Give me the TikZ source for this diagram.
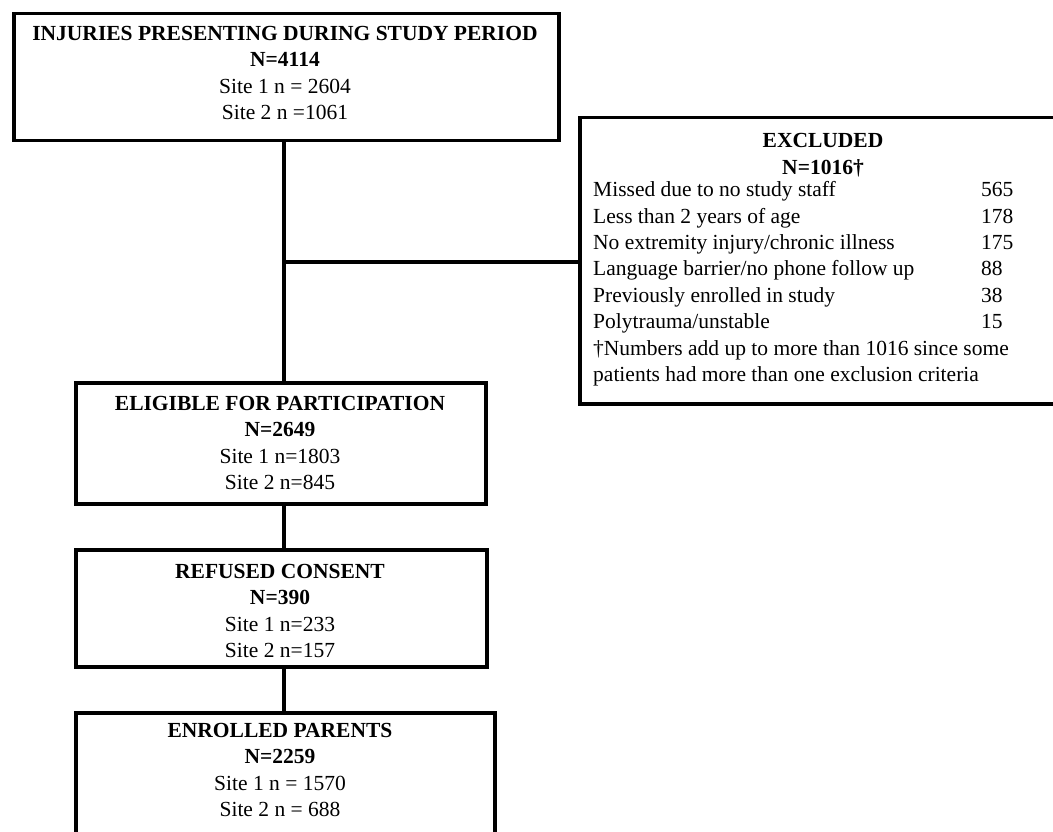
\documentclass[tikz,border=0pt]{standalone}
\usepackage{fontspec}
\setmainfont{Liberation Serif}
\begin{document}
\begin{tikzpicture}[x=1pt,y=-1pt,
  box/.style={draw=black,line width=3.5pt,anchor=north west,inner sep=0pt,fill=none},
  txt/.style={align=center,inner sep=0pt,font=\fontsize{21.5}{26.6}\selectfont},
  link/.style={draw=black,line width=3.2pt}]
\useasboundingbox (0,0) rectangle (1053,832);
\fill[white] (0,0) rectangle (1053,832);
\begin{scope}
\clip (0,0) rectangle (1053,832);
% boxes
\node[box,minimum width=545pt,minimum height=127pt] (top) at (12,12) {};
\node[box,minimum width=482pt,minimum height=286pt] (excl) at (578,116) {};
\node[box,minimum width=410pt,minimum height=121pt] (elig) at (74,381) {};
\node[box,minimum width=411pt,minimum height=117pt] (ref) at (74,548) {};
\node[box,minimum width=419pt,minimum height=140pt] (enr) at (74,711) {};
% texts
\node[txt] (toptxt) at (285,73) {\textbf{INJURIES PRESENTING DURING STUDY PERIOD}\\\textbf{N=4114}\\Site 1 n = 2604\\Site 2 n =1061};
\node[txt] (excltxt) at (823,155) {\textbf{EXCLUDED}\\\textbf{N=1016†}};
\node[inner sep=0pt,anchor=north west,font=\fontsize{21.5}{26.4}\selectfont] (excllist) at (593,178) {%
\begin{tabular}{@{}p{388pt}@{}l@{}}
Missed due to no study staff & 565\\
Less than 2 years of age & 178\\
No extremity injury/chronic illness & 175\\
Language barrier/no phone follow up & 88\\
Previously enrolled in study & 38\\
Polytrauma/unstable & 15\\
\multicolumn{2}{@{}l@{}}{†Numbers add up to more than 1016 since some}\\
\multicolumn{2}{@{}l@{}}{patients had more than one exclusion criteria}
\end{tabular}};
\node[txt] (eligtxt) at (280,443) {\textbf{ELIGIBLE FOR PARTICIPATION}\\\textbf{N=2649}\\Site 1 n=1803\\Site 2 n=845};
\node[txt] (reftxt) at (280,611) {\textbf{REFUSED CONSENT}\\\textbf{N=390}\\Site 1 n=233\\Site 2 n=157};
\node[txt] (enrtxt) at (280,770) {\textbf{ENROLLED PARENTS}\\\textbf{N=2259}\\Site 1 n = 1570\\Site 2 n = 688};
% connectors
\coordinate (j) at (284,262);
\draw[link] (top.south -| j) -- (elig.north -| j);
\draw[link] (j) -- (excl.west |- j);
\draw[link] (elig.south -| j) -- (ref.north -| j);
\draw[link] (ref.south -| j) -- (enr.north -| j);
\end{scope}
\end{tikzpicture}
\end{document}
